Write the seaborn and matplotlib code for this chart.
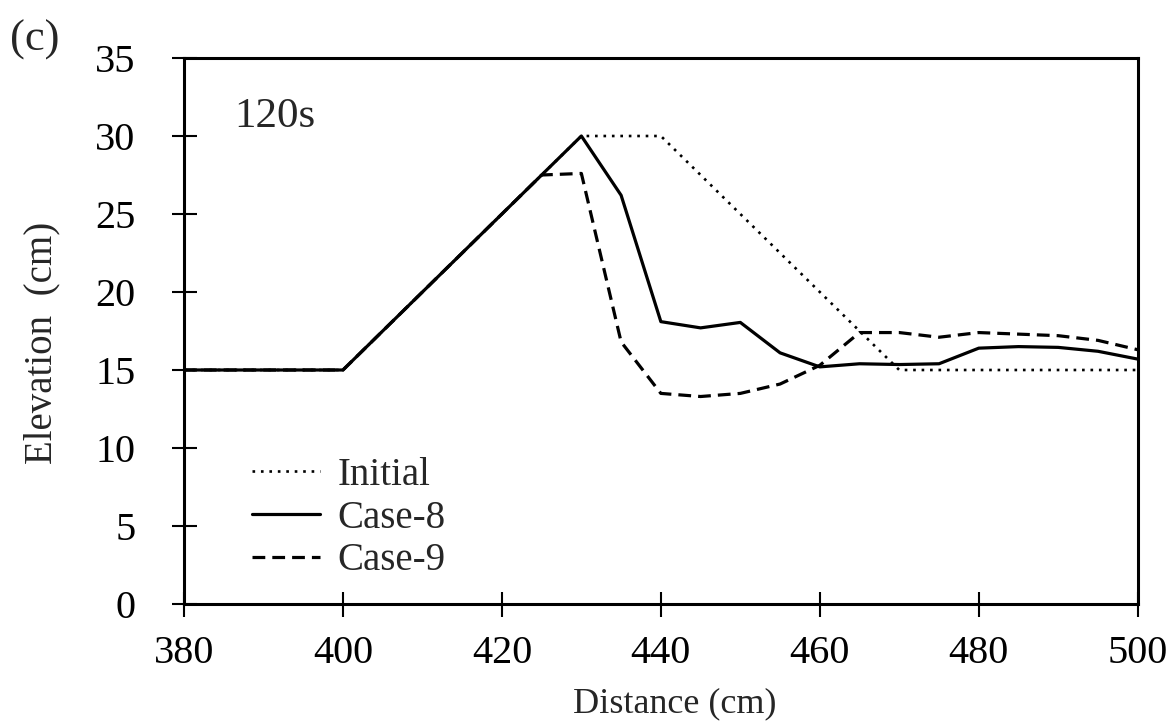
import matplotlib
matplotlib.use("Agg")
import matplotlib.pyplot as plt
import seaborn as sns
import pandas as pd

dist_initial = [380, 400, 430, 440, 470, 500]
elev_initial = [15, 15, 30, 30, 15, 15]

dist_case8 = [380, 400, 430, 435, 440, 445, 450, 455, 460, 465, 470, 475, 480, 485, 490, 495, 500]
elev_case8 = [15, 15, 30, 26.2, 18.1, 17.7, 18.05, 16.1, 15.2, 15.4, 15.35, 15.4, 16.4, 16.5, 16.45, 16.2, 15.7]

dist_case9 = [380, 400, 425, 430, 435, 440, 445, 450, 455, 460, 465, 470, 475, 480, 485, 490, 495, 500]
elev_case9 = [15, 15, 27.5, 27.6, 16.8, 13.5, 13.3, 13.5, 14.1, 15.3, 17.4, 17.4, 17.1, 17.4, 17.3, 17.2, 16.9, 16.3]

x_ticks = [380, 400, 420, 440, 460, 480, 500]
y_ticks = [0, 5, 10, 15, 20, 25, 30, 35]

frames = []
for name, xs, ys in [("Initial", dist_initial, elev_initial),
                     ("Case-8", dist_case8, elev_case8),
                     ("Case-9", dist_case9, elev_case9)]:
    frames.append(pd.DataFrame({"Distance": xs, "Elevation": ys, "Series": name}))
df = pd.concat(frames, ignore_index=True)

sns.set_style("white")
plt.rcParams['font.family'] = ['Liberation Serif', 'DejaVu Serif']

fig = plt.figure(figsize=(11.67, 7.25), dpi=100)
ax = fig.add_axes([184 / 1167, 1 - 604 / 725, (1137.7 - 184) / 1167, (604 - 58) / 725])

styles = {"Initial": dict(ls=(0, (1, 2.2)), lw=1.9),
          "Case-8": dict(ls="-", lw=2.3),
          "Case-9": dict(ls=(0, (4, 2.2)), lw=2.3)}
for name in ["Initial", "Case-8", "Case-9"]:
    sub = df[df["Series"] == name]
    sns.lineplot(data=sub, x="Distance", y="Elevation", ax=ax, color="black",
                 linestyle=styles[name]["ls"], linewidth=styles[name]["lw"],
                 label=name, sort=False)

ax.set_xlim(380, 500)
ax.set_ylim(0, 35)
ax.set_xticks(x_ticks)
ax.set_yticks(y_ticks)
ax.tick_params(axis="both", direction="inout", length=18, width=1.5,
               labelsize=29, colors="black", bottom=True, left=True)
ax.tick_params(axis="x", pad=13)
ax.tick_params(axis="y", pad=26)
for s in ax.spines.values():
    s.set_linewidth(2.2)
    s.set_color("black")
    s.set_visible(True)

ax.set_xlabel("Distance (cm)", fontsize=26)
ax.set_ylabel("Elevation  (cm)", fontsize=28)
ax.xaxis.set_label_coords(0.515, -0.152)
ax.yaxis.set_label_coords(-0.13, 0.478)

ax.text(0.053, 0.874, "120s", transform=ax.transAxes, fontsize=31, va="baseline")
fig.text(0.0086, 0.93, "(c)", fontsize=32, va="baseline")

leg = ax.legend(loc="lower left", bbox_to_anchor=(0.071, 0.045), frameon=False,
                fontsize=28, handlelength=1.75, handletextpad=0.45, labelspacing=0.15,
                borderaxespad=0, borderpad=0)

fig.savefig("out.png", dpi=100)
